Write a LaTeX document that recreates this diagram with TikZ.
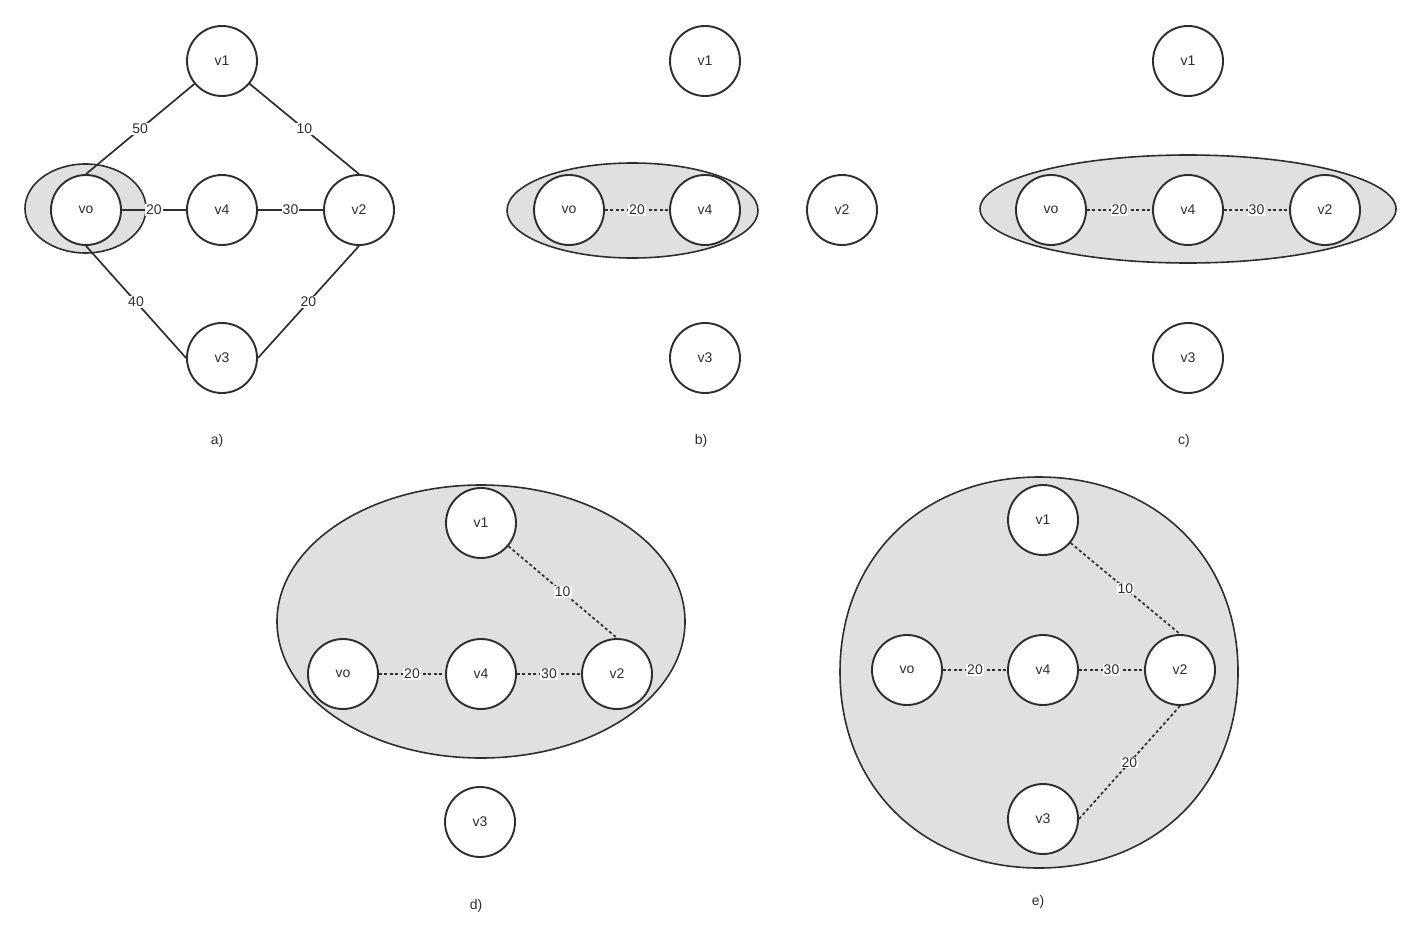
\documentclass[tikz,border=0pt]{standalone}
\usepackage{fontspec}
\setmainfont{Liberation Sans}
\usetikzlibrary{shapes.geometric}
\definecolor{ink}{HTML}{2E2E2E}
\definecolor{grp}{HTML}{E0E0E0}
\begin{document}
\begin{tikzpicture}[x=1pt,y=-1pt,
  font=\fontsize{14}{16}\selectfont,
  vert/.style={circle,draw=ink,fill=white,line width=1.9pt,minimum size=70pt,inner sep=0pt,text=ink},
  grpshape/.style={draw=ink,fill=grp,line width=1.6pt},
  solidedge/.style={draw=ink,line width=1.7pt},
  dotedge/.style={draw=ink,line width=1.7pt,dash pattern=on 3pt off 2.5pt},
  wlab/.style={fill=white,inner sep=1pt,text=ink},
  captext/.style={text=ink}]
\useasboundingbox (0,0) rectangle (1421,950);
% group shapes
\draw[grpshape] (85.5,208.5) ellipse [x radius=60.5, y radius=44.5];
\draw[grpshape] (632.5,210.5) ellipse [x radius=125.5, y radius=47.5];
\draw[grpshape] (1188,209) ellipse [x radius=208, y radius=54];
\draw[grpshape] (481,621.5) ellipse [x radius=204, y radius=136.5];
\draw[grpshape] (1039,477) .. controls (1154,477) and (1238,556) .. (1238,672)
  .. controls (1238,788) and (1154,868) .. (1039,868)
  .. controls (924,868) and (840,788) .. (840,672)
  .. controls (840,556) and (924,477) .. cycle;
% panel a
\node[vert] (a1) at (222,61) {v1};
\node[vert] (ao) at (86,210) {vo};
\node[vert] (a4) at (222,210) {v4};
\node[vert] (a2) at (359,210) {v2};
\node[vert] (a3) at (222,358) {v3};
\draw[solidedge] (ao.north) -- node[wlab]{50} (a1);
\draw[solidedge] (a1) -- node[wlab]{10} (a2.north);
\draw[solidedge] (ao.south) -- node[wlab]{40} (a3.west);
\draw[solidedge] (a2.south) -- node[wlab]{20} (a3.east);
\draw[solidedge] (ao.east) -- node[wlab]{20} (a4.west);
\draw[solidedge] (a4.east) -- node[wlab]{30} (a2.west);
\node[captext] (capa) at (217,441) {a)};
% panel b
\node[vert] (b1) at (705,61) {v1};
\node[vert] (bo) at (569,210) {vo};
\node[vert] (b4) at (705,210) {v4};
\node[vert] (b2) at (842,210) {v2};
\node[vert] (b3) at (705,358) {v3};
\draw[dotedge] (bo.east) -- node[wlab]{20} (b4.west);
\node[captext] (capb) at (701,441) {b)};
% panel c
\node[vert] (c1) at (1188,61) {v1};
\node[vert] (co) at (1051,210) {vo};
\node[vert] (c4) at (1188,210) {v4};
\node[vert] (c2) at (1325,210) {v2};
\node[vert] (c3) at (1188,358) {v3};
\draw[dotedge] (co.east) -- node[wlab]{20} (c4.west);
\draw[dotedge] (c4.east) -- node[wlab]{30} (c2.west);
\node[captext] (capc) at (1184,441) {c)};
% panel d
\node[vert] (d1) at (481,523) {v1};
\node[vert] (do) at (343,674) {vo};
\node[vert] (d4) at (481,674) {v4};
\node[vert] (d2) at (617,674) {v2};
\node[vert] (d3) at (480,822) {v3};
\draw[dotedge] (d1) -- node[wlab]{10} (d2.north);
\draw[dotedge] (do.east) -- node[wlab]{20} (d4.west);
\draw[dotedge] (d4.east) -- node[wlab]{30} (d2.west);
\node[captext] (capd) at (476,906) {d)};
% panel e
\node[vert] (e1) at (1043,520) {v1};
\node[vert] (eo) at (907,670) {vo};
\node[vert] (e4) at (1043,670) {v4};
\node[vert] (e2) at (1180,670) {v2};
\node[vert] (e3) at (1043,819) {v3};
\draw[dotedge] (e1) -- node[wlab]{10} (e2.north);
\draw[dotedge] (eo.east) -- node[wlab]{20} (e4.west);
\draw[dotedge] (e4.east) -- node[wlab]{30} (e2.west);
\draw[dotedge] (e2.south) -- node[wlab]{20} (e3.east);
\node[captext] (cape) at (1038,902) {e)};
\end{tikzpicture}
\end{document}
